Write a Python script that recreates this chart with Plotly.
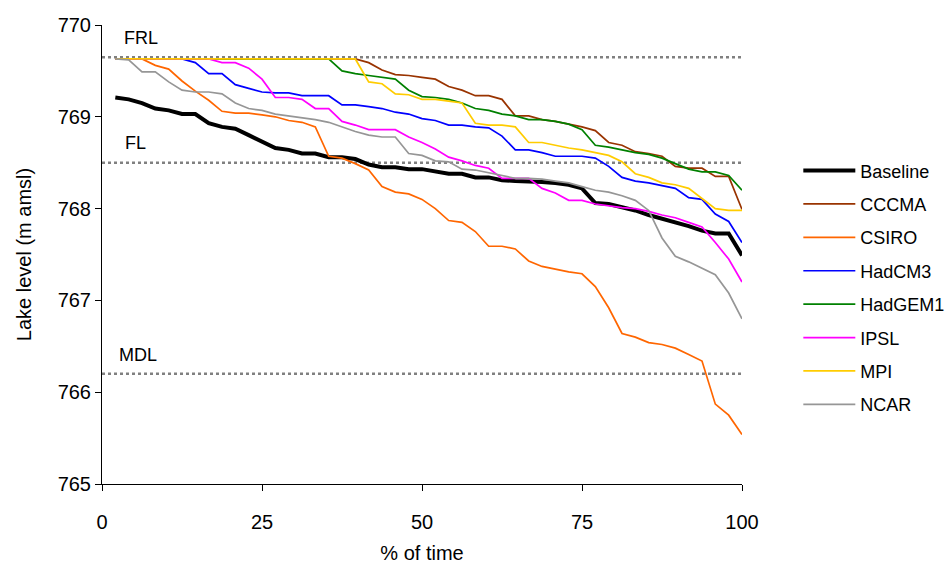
import plotly.graph_objects as go

# Exceedance (% of time), 48 ranked years
pct_time = [2.08, 4.17, 6.25, 8.33, 10.42, 12.50, 14.58, 16.67, 18.75, 20.83,
            22.92, 25.00, 27.08, 29.17, 31.25, 33.33, 35.42, 37.50, 39.58, 41.67,
            43.75, 45.83, 47.92, 50.00, 52.08, 54.17, 56.25, 58.33, 60.42, 62.50,
            64.58, 66.67, 68.75, 70.83, 72.92, 75.00, 77.08, 79.17, 81.25, 83.33,
            85.42, 87.50, 89.58, 91.67, 93.75, 95.83, 97.92, 100.00]

baseline = [769.21, 769.19, 769.15, 769.09, 769.07, 769.03, 769.03, 768.93, 768.89, 768.87,
            768.80, 768.73, 768.66, 768.64, 768.60, 768.60, 768.56, 768.56, 768.54, 768.48,
            768.45, 768.45, 768.43, 768.43, 768.40, 768.38, 768.38, 768.34, 768.34, 768.31,
            768.30, 768.30, 768.29, 768.28, 768.26, 768.22, 768.06, 768.05, 768.02, 767.98,
            767.93, 767.89, 767.86, 767.81, 767.76, 767.73, 767.73, 767.49]

cccma = [769.63, 769.63, 769.63, 769.63, 769.63, 769.63, 769.63, 769.63, 769.63, 769.63,
         769.63, 769.63, 769.63, 769.63, 769.63, 769.63, 769.63, 769.63, 769.63, 769.59,
         769.51, 769.46, 769.45, 769.43, 769.41, 769.33, 769.29, 769.23, 769.23, 769.19,
         769.01, 769.01, 768.97, 768.95, 768.92, 768.89, 768.85, 768.72, 768.69, 768.62,
         768.60, 768.57, 768.46, 768.44, 768.44, 768.35, 768.35, 767.99]

csiro = [769.63, 769.63, 769.63, 769.56, 769.52, 769.39, 769.28, 769.18, 769.06, 769.04,
         769.04, 769.02, 769.00, 768.96, 768.94, 768.89, 768.57, 768.55, 768.49, 768.42,
         768.24, 768.18, 768.16, 768.10, 768.00, 767.87, 767.85, 767.75, 767.59, 767.59,
         767.56, 767.43, 767.37, 767.34, 767.31, 767.29, 767.15, 766.92, 766.64, 766.60,
         766.54, 766.52, 766.48, 766.41, 766.34, 765.87, 765.75, 765.54]

hadcm3 = [769.63, 769.63, 769.63, 769.63, 769.63, 769.63, 769.59, 769.47, 769.47, 769.35,
          769.31, 769.27, 769.26, 769.26, 769.23, 769.23, 769.23, 769.13, 769.13, 769.11,
          769.09, 769.05, 769.03, 768.98, 768.96, 768.91, 768.91, 768.89, 768.88, 768.79,
          768.64, 768.64, 768.61, 768.57, 768.57, 768.57, 768.55, 768.46, 768.34, 768.30,
          768.28, 768.25, 768.22, 768.12, 768.10, 767.94, 767.86, 767.63]

hadgem1 = [769.63, 769.63, 769.63, 769.63, 769.63, 769.63, 769.63, 769.63, 769.63, 769.63,
           769.63, 769.63, 769.63, 769.63, 769.63, 769.63, 769.63, 769.50, 769.47, 769.45,
           769.43, 769.41, 769.29, 769.22, 769.21, 769.19, 769.15, 769.09, 769.07, 769.03,
           769.01, 768.97, 768.97, 768.95, 768.92, 768.86, 768.69, 768.67, 768.64, 768.61,
           768.59, 768.55, 768.49, 768.43, 768.40, 768.40, 768.36, 768.20]

ipsl = [769.63, 769.63, 769.63, 769.63, 769.63, 769.63, 769.63, 769.63, 769.59, 769.59,
        769.53, 769.41, 769.21, 769.21, 769.19, 769.09, 769.09, 768.95, 768.91, 768.86,
        768.86, 768.86, 768.78, 768.72, 768.65, 768.56, 768.52, 768.47, 768.44, 768.33,
        768.33, 768.33, 768.22, 768.17, 768.09, 768.09, 768.05, 768.03, 768.01, 768.00,
        767.97, 767.93, 767.90, 767.85, 767.80, 767.63, 767.45, 767.20]

mpi = [769.63, 769.63, 769.63, 769.63, 769.63, 769.63, 769.63, 769.63, 769.63, 769.63,
       769.63, 769.63, 769.63, 769.63, 769.63, 769.63, 769.63, 769.63, 769.63, 769.38,
       769.36, 769.25, 769.24, 769.19, 769.19, 769.17, 769.15, 768.93, 768.91, 768.91,
       768.89, 768.72, 768.72, 768.69, 768.66, 768.64, 768.61, 768.58, 768.51, 768.38,
       768.34, 768.28, 768.26, 768.22, 768.11, 768.00, 767.98, 767.98]

ncar = [769.63, 769.62, 769.49, 769.49, 769.38, 769.29, 769.27, 769.27, 769.25, 769.15,
        769.09, 769.07, 769.03, 769.01, 768.99, 768.97, 768.94, 768.89, 768.84, 768.80,
        768.78, 768.78, 768.60, 768.58, 768.52, 768.51, 768.43, 768.42, 768.39, 768.36,
        768.33, 768.33, 768.32, 768.30, 768.28, 768.24, 768.20, 768.18, 768.14, 768.09,
        767.98, 767.68, 767.48, 767.42, 767.35, 767.28, 767.08, 766.80]

series_names = ["Baseline", "CCCMA", "CSIRO", "HadCM3", "HadGEM1", "IPSL", "MPI", "NCAR"]
series_values = [baseline, cccma, csiro, hadcm3, hadgem1, ipsl, mpi, ncar]
series_colors = ["#000000", "#993300", "#FF6600", "#0000FF", "#008000", "#FF00FF", "#FFCC00", "#969696"]
series_widths = [4, 1.7, 1.7, 1.7, 1.7, 1.7, 1.7, 1.7]

# Reference lake levels and where their labels sit
level_names = ["FRL", "FL", "MDL"]
level_values = [769.65, 768.50, 766.20]
level_label_x = [6.1, 5.3, 5.7]
level_label_y = [769.86, 768.71, 766.41]

x_ticks = [0, 25, 50, 75, 100]
y_ticks = [765, 766, 767, 768, 769, 770]

FONT = "Liberation Sans, Arial, sans-serif"

fig = go.Figure()

for name, vals, col, w in zip(series_names, series_values, series_colors, series_widths):
    fig.add_trace(go.Scatter(
        x=pct_time, y=vals, name=name, mode="lines",
        line=dict(color=col, width=w),
        legendgroup=name,
    ))

for name, lvl, lx, ly in zip(level_names, level_values, level_label_x, level_label_y):
    fig.add_shape(type="line", xref="x", yref="y", x0=0, x1=100, y0=lvl, y1=lvl,
                  line=dict(color="#808080", width=2.5, dash="dot"), layer="below")
    fig.add_annotation(x=lx, y=ly, text=name, showarrow=False, xref="x", yref="y",
                       font=dict(family=FONT, size=18, color="#000000"))

fig.update_layout(
    width=946, height=568,
    margin=dict(l=102, r=204, t=25, b=84, autoexpand=False),
    paper_bgcolor="white", plot_bgcolor="white",
    font=dict(family=FONT, size=20, color="#000000"),
    showlegend=True,
    legend=dict(
        x=1.088, y=0.7225, xanchor="left", yanchor="top",
        font=dict(family=FONT, size=18, color="#000000"),
        tracegroupgap=7, itemwidth=52,
        bgcolor="rgba(0,0,0,0)",
    ),
    xaxis=dict(
        range=[0, 100], tickvals=x_ticks, showgrid=False, zeroline=False,
        showline=True, linecolor="#000000", linewidth=1,
        ticks="outside", ticklen=6, tickcolor="#000000",
        ticklabelstandoff=14, tickfont=dict(size=20), automargin=False,
        title=dict(text="% of time", standoff=13, font=dict(size=20)),
    ),
    yaxis=dict(
        range=[765, 770], tickvals=y_ticks, showgrid=False, zeroline=False,
        showline=True, linecolor="#000000", linewidth=1,
        ticks="outside", ticklen=6, tickcolor="#000000",
        tickfont=dict(size=20), automargin=False,
        title=dict(text="Lake level (m amsl)", standoff=20, font=dict(size=20)),
    ),
)

fig.write_html("out.html")
